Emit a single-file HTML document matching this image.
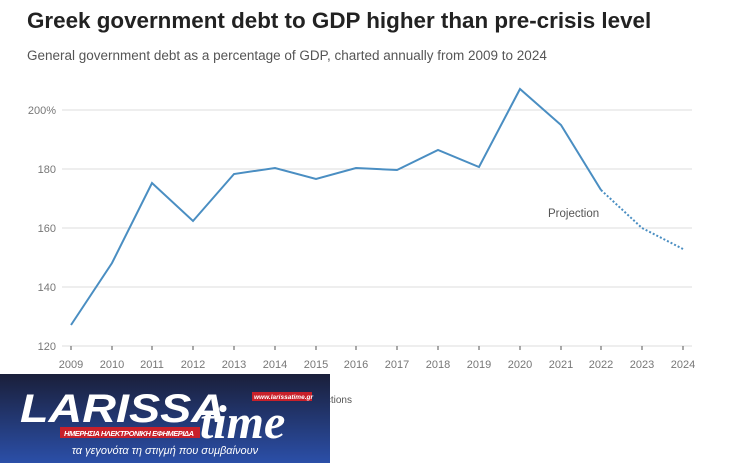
<!DOCTYPE html>
<html><head><meta charset="utf-8"><style>
body{margin:0;width:734px;height:463px;background:#fff;overflow:hidden;font-family:"Liberation Sans",sans-serif;position:relative}
.t{position:absolute;left:27px;top:8px;font-size:22.4px;font-weight:bold;color:#222;letter-spacing:0px}
.s{position:absolute;left:27px;top:48px;font-size:13.5px;color:#555}
</style></head><body>
<div class="t">Greek government debt to GDP higher than pre-crisis level</div>
<div class="s">General government debt as a percentage of GDP, charted annually from 2009 to 2024</div>
<svg width="734" height="463" style="position:absolute;left:0;top:0" font-family="Liberation Sans, sans-serif">
<g stroke="#ddd" stroke-width="1">
<line x1="62" x2="692" y1="110" y2="110"/><line x1="62" x2="692" y1="169" y2="169"/><line x1="62" x2="692" y1="228" y2="228"/><line x1="62" x2="692" y1="287" y2="287"/><line x1="62" x2="692" y1="346" y2="346"/>
</g>
<g stroke="#555" stroke-width="1">
<line x1="71" x2="71" y1="346" y2="350"/><line x1="112" x2="112" y1="346" y2="350"/><line x1="152" x2="152" y1="346" y2="350"/><line x1="193" x2="193" y1="346" y2="350"/><line x1="234" x2="234" y1="346" y2="350"/><line x1="275" x2="275" y1="346" y2="350"/><line x1="316" x2="316" y1="346" y2="350"/><line x1="356" x2="356" y1="346" y2="350"/><line x1="397" x2="397" y1="346" y2="350"/><line x1="438" x2="438" y1="346" y2="350"/><line x1="479" x2="479" y1="346" y2="350"/><line x1="520" x2="520" y1="346" y2="350"/><line x1="561" x2="561" y1="346" y2="350"/><line x1="601" x2="601" y1="346" y2="350"/><line x1="642" x2="642" y1="346" y2="350"/><line x1="683" x2="683" y1="346" y2="350"/>
</g>
<g fill="#777" font-size="11" text-anchor="end">
<text x="56" y="114">200%</text><text x="56" y="173">180</text><text x="56" y="232">160</text><text x="56" y="291">140</text><text x="56" y="350">120</text>
</g>
<g fill="#777" font-size="11" text-anchor="middle">
<text x="71" y="368">2009</text><text x="112" y="368">2010</text><text x="152" y="368">2011</text><text x="193" y="368">2012</text><text x="234" y="368">2013</text><text x="275" y="368">2014</text><text x="316" y="368">2015</text><text x="356" y="368">2016</text><text x="397" y="368">2017</text><text x="438" y="368">2018</text><text x="479" y="368">2019</text><text x="520" y="368">2020</text><text x="561" y="368">2021</text><text x="601" y="368">2022</text><text x="642" y="368">2023</text><text x="683" y="368">2024</text>
</g>
<polyline fill="none" stroke="#4a8ec2" stroke-width="2" points="71,325 112,263 152,183 193,221 234,174 275,168 316,179 356,168 397,170 438,150 479,167 520,89 561,125 601,190"/>
<polyline fill="none" stroke="#4a8ec2" stroke-width="2" stroke-dasharray="2,2" points="601,190 642,228 683,249"/>
<text x="548" y="217" font-size="11.5" fill="#555">Projection</text>
<text x="352" y="403" font-size="10" fill="#555" text-anchor="end">Source: Ministry of Finance projections</text>
<defs><linearGradient id="g" x1="0" y1="0" x2="0" y2="1"><stop offset="0" stop-color="#1a1f3a"/><stop offset="1" stop-color="#2b4fa8"/></linearGradient></defs>
<rect x="0" y="374" width="330" height="89" fill="url(#g)"/>
<text x="20" y="422" font-size="40" font-weight="bold" font-style="italic" fill="#fff" textLength="205" lengthAdjust="spacingAndGlyphs">LARISSA</text>
<text x="200" y="438" font-size="48" font-weight="bold" font-style="italic" font-family="Liberation Serif, serif" fill="#fff">time</text>
<rect x="252" y="392" width="60" height="9" fill="#c8202a"/>
<text x="254" y="399" font-size="6.5" fill="#fff" font-style="italic" font-weight="bold">www.larissatime.gr</text>
<rect x="60" y="427" width="140" height="11" fill="#c8202a"/>
<text x="64" y="436" font-size="7.5" fill="#fff" font-style="italic" font-weight="bold" textLength="130">ΗΜΕΡΗΣΙΑ ΗΛΕΚΤΡΟΝΙΚΗ ΕΦΗΜΕΡΙΔΑ</text>
<text x="165" y="454" font-size="11" fill="#fff" font-style="italic" text-anchor="middle">τα γεγονότα τη στιγμή που συμβαίνουν</text>
</svg>
</body></html>
